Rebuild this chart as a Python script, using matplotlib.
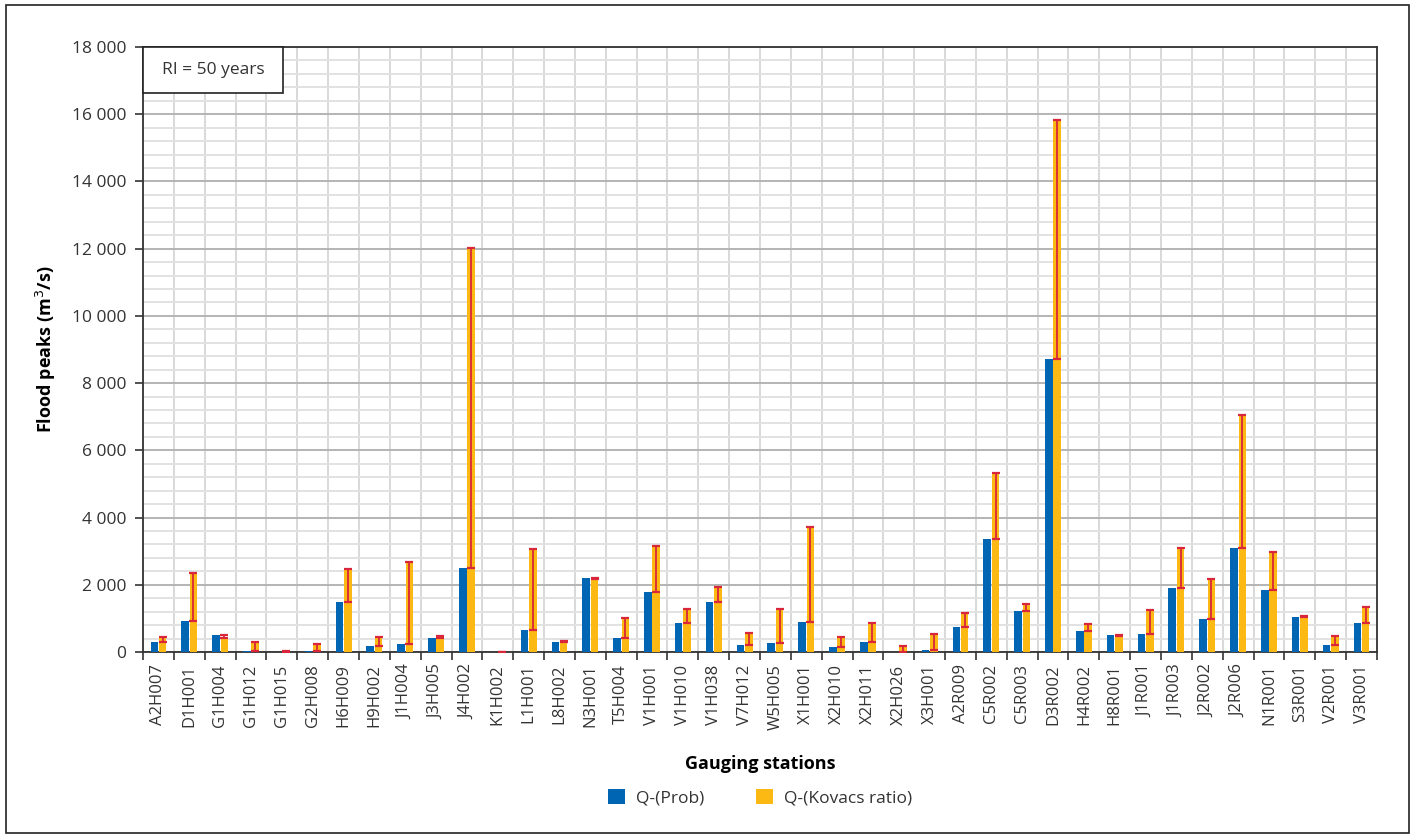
import numpy as np
import matplotlib.pyplot as plt
from matplotlib.patches import Rectangle
from matplotlib.ticker import FuncFormatter, MultipleLocator

plt.rcParams['font.family'] = ['Open Sans', 'DejaVu Sans']

stations = ['A2H007', 'D1H001', 'G1H004', 'G1H012', 'G1H015', 'G2H008', 'H6H009', 'H9H002',
            'J1H004', 'J3H005', 'J4H002', 'K1H002', 'L1H001', 'L8H002', 'N3H001', 'T5H004',
            'V1H001', 'V1H010', 'V1H038', 'V7H012', 'W5H005', 'X1H001', 'X2H010', 'X2H011',
            'X2H026', 'X3H001', 'A2R009', 'C5R002', 'C5R003', 'D3R002', 'H4R002', 'H8R001',
            'J1R001', 'J1R003', 'J2R002', 'J2R006', 'N1R001', 'S3R001', 'V2R001', 'V3R001']

q_prob = [305, 920, 510, 20, 5, 20, 1490, 180,
          240, 420, 2490, 10, 650, 290, 2200, 410,
          1780, 855, 1480, 200, 265, 895, 150, 300,
          0, 60, 735, 3355, 1210, 8710, 615, 505,
          530, 1905, 985, 3095, 1845, 1040, 210, 865]

q_kovacs = [460, 2360, 415, 300, 15, 230, 2460, 450,
            2685, 462, 12020, 10, 3060, 340, 2175, 1005,
            3160, 1265, 1940, 550, 1290, 3710, 446, 855,
            180, 535, 1155, 5330, 1430, 15840, 835, 485,
            1250, 3105, 2185, 7050, 2960, 1080, 485, 1330]

BLUE = '#0065b3'
ORANGE = '#fdb913'
RED = '#d9263a'
TXT = '#333333'

fig = plt.figure(figsize=(14.15, 8.38), dpi=100)
ax = fig.add_axes([0.1011, 0.222, 0.8720, 0.7219])

x = np.arange(len(stations))
w = 0.245
ax.bar(x - 0.135, q_prob, w, color=BLUE, label='Q-(Prob)', zorder=3)
ax.bar(x + 0.135, q_kovacs, w, color=ORANGE, label='Q-(Kovacs ratio)', zorder=3)

# red range bar between the two estimates, drawn on the Kovacs bar
lo = np.minimum(q_prob, q_kovacs)
hi = np.maximum(q_prob, q_kovacs)
mid = (lo + hi) / 2
ax.errorbar(x + 0.135, mid, yerr=[mid - lo, hi - mid], fmt='none', ecolor=RED,
            elinewidth=1.3, capsize=2.6, capthick=1.6, zorder=4)

ax.set_xlim(-0.5, len(stations) - 0.5)
ax.set_ylim(0, 18000)

ax.yaxis.set_major_locator(MultipleLocator(2000))
ax.yaxis.set_minor_locator(MultipleLocator(400))
ax.yaxis.set_major_formatter(FuncFormatter(lambda v, p: f'{int(v):,}'.replace(',', ' ')))

ax.set_xticks(x)
ax.set_xticklabels(stations, rotation=90, fontsize=12, color=TXT)
ax.set_xticks(np.arange(-0.5, len(stations), 1), minor=True)

ax.tick_params(axis='x', which='major', length=0, pad=9)
ax.tick_params(axis='x', which='minor', length=6, width=1.2, color=TXT)
ax.tick_params(axis='y', which='major', length=6, width=1.2, color=TXT,
               labelsize=12.5, labelcolor=TXT, pad=6)
ax.tick_params(axis='y', which='minor', length=0)

ax.grid(axis='y', which='minor', color='#e2e2e2', lw=1.4, zorder=0)
ax.grid(axis='y', which='major', color='#b4b4b4', lw=1.4, zorder=0)
ax.grid(axis='x', which='minor', color='#d8d8d8', lw=1.4, zorder=0)
ax.grid(axis='x', which='major', visible=False)
ax.set_axisbelow(True)

for s in ax.spines.values():
    s.set_color(TXT)
    s.set_linewidth(1.3)

ax.set_ylabel('Flood peaks (m$^3$/s)', fontsize=13, fontweight='bold', labelpad=10)
ax.set_xlabel('Gauging stations', fontsize=13, fontweight='bold', labelpad=18)

# return-interval box in the top-left corner
ax.add_patch(Rectangle((0.0, 0.924), 0.1135, 0.076, transform=ax.transAxes,
                       fc='white', ec='#222222', lw=1.2, zorder=6, clip_on=False))
ax.text(0.1135 / 2, 0.962, 'RI = 50 years', transform=ax.transAxes, fontsize=12.5,
        color=TXT, ha='center', va='center', zorder=7)

leg = ax.legend(loc='upper center', bbox_to_anchor=(0.5, -0.2), ncol=2, frameon=False,
                fontsize=12.5, handlelength=1.0, handleheight=1.0, columnspacing=3.0,
                handletextpad=0.6)
for t in leg.get_texts():
    t.set_color(TXT)

fig.patches.append(Rectangle((0.004, 0.006), 0.992, 0.988, transform=fig.transFigure,
                             fill=False, ec='#222222', lw=1.2))

fig.savefig('out.png', dpi=100)
